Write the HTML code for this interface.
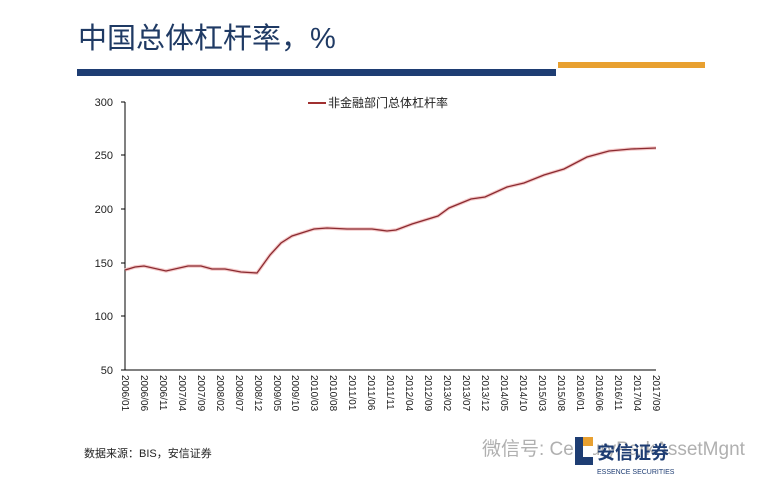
<!DOCTYPE html>
<html><head><meta charset="utf-8"><style>
html,body{margin:0;padding:0;background:#fff;width:777px;height:483px;overflow:hidden}
svg{display:block;font-family:"Liberation Sans","Noto Sans CJK SC",sans-serif}
</style></head><body>
<svg width="777" height="483" viewBox="0 0 777 483">
<text x="78" y="48" font-size="29" fill="#1f3a64">中国总体杠杆率，%</text>
<rect x="77" y="69" width="479" height="7" fill="#1e3d73"/>
<rect x="558" y="62" width="147" height="6" fill="#e8a030"/>
<line x1="125" y1="102" x2="125" y2="370" stroke="#000" stroke-width="1"/>
<line x1="125" y1="370" x2="656" y2="370" stroke="#000" stroke-width="1"/>
<g font-size="11" fill="#222" text-anchor="end">
<text x="113" y="106">300</text><line x1="121" y1="102" x2="125" y2="102" stroke="#000"/>
<text x="113" y="159">250</text><line x1="121" y1="155" x2="125" y2="155" stroke="#000"/>
<text x="113" y="213">200</text><line x1="121" y1="209" x2="125" y2="209" stroke="#000"/>
<text x="113" y="267">150</text><line x1="121" y1="263" x2="125" y2="263" stroke="#000"/>
<text x="113" y="320">100</text><line x1="121" y1="316" x2="125" y2="316" stroke="#000"/>
<text x="113" y="374">50</text><line x1="121" y1="370" x2="125" y2="370" stroke="#000"/>
</g>
<line x1="308" y1="103" x2="326" y2="103" stroke="#a03030" stroke-width="2"/>
<text x="328" y="107" font-size="12" fill="#222">非金融部门总体杠杆率</text>
<polyline fill="none" stroke="#f4c8c8" stroke-width="3.5" points="125,270 135,267 144,266 166,271 188,266 201,266 212,269 225,269 241,272 257,273 270,255 281,243 292,236 314,229 327,228 347,229 372,229 387,231 396,230 412,224 438,216 449,208 471,199 485,197 507,187 524,183 544,175 564,169 587,157 609,151 631,149 656,148"/>
<polyline fill="none" stroke="#8a2a30" stroke-width="1.3" points="125,270 135,267 144,266 166,271 188,266 201,266 212,269 225,269 241,272 257,273 270,255 281,243 292,236 314,229 327,228 347,229 372,229 387,231 396,230 412,224 438,216 449,208 471,199 485,197 507,187 524,183 544,175 564,169 587,157 609,151 631,149 656,148"/>
<g font-size="10" fill="#222">
<g transform="translate(122,375) rotate(90)"><text>2006/01</text></g>
<g transform="translate(141,375) rotate(90)"><text>2006/06</text></g>
<g transform="translate(160,375) rotate(90)"><text>2006/11</text></g>
<g transform="translate(179,375) rotate(90)"><text>2007/04</text></g>
<g transform="translate(198,375) rotate(90)"><text>2007/09</text></g>
<g transform="translate(217,375) rotate(90)"><text>2008/02</text></g>
<g transform="translate(236,375) rotate(90)"><text>2008/07</text></g>
<g transform="translate(255,375) rotate(90)"><text>2008/12</text></g>
<g transform="translate(274,375) rotate(90)"><text>2009/05</text></g>
<g transform="translate(292,375) rotate(90)"><text>2009/10</text></g>
<g transform="translate(311,375) rotate(90)"><text>2010/03</text></g>
<g transform="translate(330,375) rotate(90)"><text>2010/08</text></g>
<g transform="translate(349,375) rotate(90)"><text>2011/01</text></g>
<g transform="translate(368,375) rotate(90)"><text>2011/06</text></g>
<g transform="translate(387,375) rotate(90)"><text>2011/11</text></g>
<g transform="translate(406,375) rotate(90)"><text>2012/04</text></g>
<g transform="translate(425,375) rotate(90)"><text>2012/09</text></g>
<g transform="translate(444,375) rotate(90)"><text>2013/02</text></g>
<g transform="translate(463,375) rotate(90)"><text>2013/07</text></g>
<g transform="translate(482,375) rotate(90)"><text>2013/12</text></g>
<g transform="translate(501,375) rotate(90)"><text>2014/05</text></g>
<g transform="translate(520,375) rotate(90)"><text>2014/10</text></g>
<g transform="translate(539,375) rotate(90)"><text>2015/03</text></g>
<g transform="translate(558,375) rotate(90)"><text>2015/08</text></g>
<g transform="translate(577,375) rotate(90)"><text>2016/01</text></g>
<g transform="translate(596,375) rotate(90)"><text>2016/06</text></g>
<g transform="translate(615,375) rotate(90)"><text>2016/11</text></g>
<g transform="translate(634,375) rotate(90)"><text>2017/04</text></g>
<g transform="translate(653,375) rotate(90)"><text>2017/09</text></g>
</g>
<text x="84" y="457" font-size="11" fill="#222">数据来源：BIS，安信证券</text>
<text x="482" y="455" font-size="19" fill="#b0b0b0">微信号: CenturyParkAssetMgnt</text>
<rect x="575" y="437" width="18" height="28" fill="#1e3d73"/>
<rect x="583" y="437" width="10" height="20" fill="#fff"/>
<rect x="583" y="437" width="10" height="9" fill="#e8a030"/>
<text x="597" y="459" font-size="18" fill="#1e3d73" font-weight="bold">安信证券</text>
<text x="597" y="474" font-size="7" fill="#1e3d73">ESSENCE SECURITIES</text>
</svg>
</body></html>
